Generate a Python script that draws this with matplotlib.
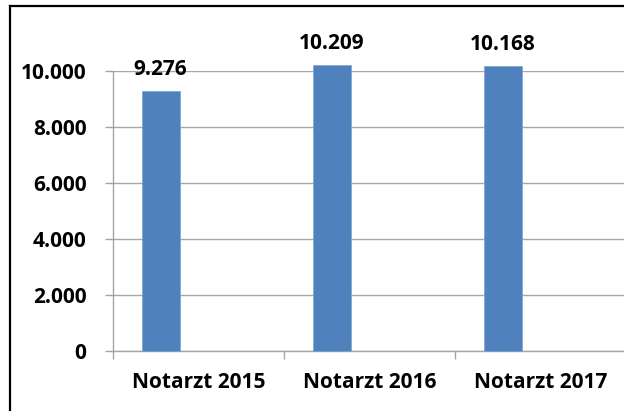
import numpy as np
import matplotlib
matplotlib.use("Agg")
import matplotlib.pyplot as plt
from matplotlib.lines import Line2D

# Daten
kategorien = ["Notarzt 2015", "Notarzt 2016", "Notarzt 2017"]
werte = [9276, 10209, 10168]
labels = ["9.276", "10.209", "10.168"]
yticks = [0, 2000, 4000, 6000, 8000, 10000]
ytick_labels = ["0", "2.000", "4.000", "6.000", "8.000", "10.000"]

blau = "#4f81bd"
grau = "#a6a6a6"
plt.rcParams["font.family"] = ["Open Sans", "DejaVu Sans"]
fs = 15

fig = plt.figure(figsize=(6.24, 4.11), dpi=100)
ax = fig.add_axes([113/624, 60/411, 513/624, 280/411])

x = np.arange(len(kategorien))
bw = 1/4.5
ax.bar(x - bw, werte, width=bw, color=blau, edgecolor="#7da3d1", linewidth=0.5, zorder=3, clip_on=False)
for xi, w, s in zip(x, werte, labels):
    ax.annotate(s, (xi - bw, w), xytext=(0, 8), textcoords="offset points",
                ha="center", va="bottom", fontsize=fs, fontweight="bold", annotation_clip=False)

ax.set_xlim(-0.5, 2.5)
ax.set_ylim(0, 10000)
ax.set_yticks(yticks)
ax.set_yticklabels(ytick_labels, fontsize=fs, fontweight="bold")
ax.set_xticks([-0.5, 0.5, 1.5, 2.5])
ax.set_xticklabels([])
ax.set_xticks(x, minor=True)
ax.set_xticklabels(kategorien, minor=True, fontsize=fs, fontweight="bold")
ax.tick_params(axis="x", which="major", length=6, color=grau, width=1)
ax.tick_params(axis="x", which="minor", length=0, pad=15)
ax.tick_params(axis="y", length=6, color=grau, width=1, pad=13)
ax.grid(axis="y", color=grau, linewidth=1, zorder=0)
ax.set_axisbelow(True)
for s in ["top", "right"]:
    ax.spines[s].set_visible(False)
for s in ["left", "bottom"]:
    ax.spines[s].set_color(grau)
    ax.spines[s].set_linewidth(1)

# Rahmen oben und links
fig.add_artist(Line2D([9.5/624, 1], [1 - 6.5/411, 1 - 6.5/411], color="black", linewidth=1.6, transform=fig.transFigure))
fig.add_artist(Line2D([9.5/624, 9.5/624], [0, 1 - 6.5/411], color="black", linewidth=1.6, transform=fig.transFigure))

fig.savefig("out.png", dpi=100)
